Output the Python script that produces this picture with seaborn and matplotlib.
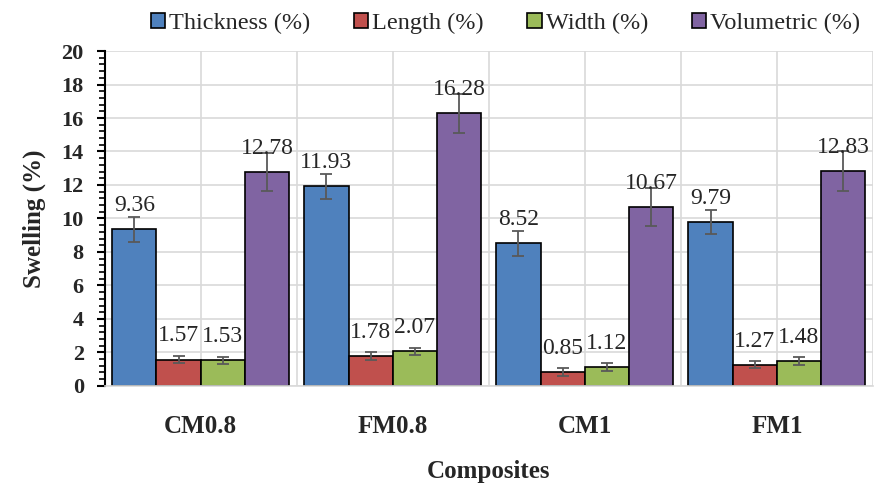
import numpy as np
import pandas as pd
import seaborn as sns
import matplotlib.pyplot as plt
from matplotlib.ticker import MultipleLocator

composites = ["CM0.8", "FM0.8", "CM1", "FM1"]
measures = ["Thickness (%)", "Length (%)", "Width (%)", "Volumetric (%)"]

thickness = [9.36, 11.93, 8.52, 9.79]
length = [1.57, 1.78, 0.85, 1.27]
width = [1.53, 2.07, 1.12, 1.48]
volumetric = [12.78, 16.28, 10.67, 12.83]

thickness_err = [0.75, 0.74, 0.75, 0.73]
length_err = [0.22, 0.23, 0.24, 0.23]
width_err = [0.22, 0.22, 0.22, 0.22]
volumetric_err = [1.14, 1.16, 1.15, 1.17]

colors = ["#4F81BD", "#C0504D", "#9BBB59", "#8064A2"]

values = [thickness, length, width, volumetric]
errors = [thickness_err, length_err, width_err, volumetric_err]

rows = []
for m, vals in zip(measures, values):
    for c, v in zip(composites, vals):
        rows.append({"Composite": c, "Measure": m, "Swelling": v})
df = pd.DataFrame(rows)

sns.set_style("white")
plt.rcParams['font.family'] = ['Liberation Serif', 'DejaVu Serif']

fig = plt.figure(figsize=(8.79, 4.86), dpi=100)
ax = fig.add_axes([0.119, 0.206, 0.874, 0.689])

sns.barplot(data=df, x="Composite", y="Swelling", hue="Measure",
            order=composites, hue_order=measures, palette=colors,
            width=0.92, gap=0, saturation=1, errorbar=None,
            edgecolor="black", linewidth=1.2, ax=ax)

for cont, errs in zip(ax.containers, errors):
    xs = [b.get_x() + b.get_width() / 2 for b in cont]
    hs = [b.get_height() for b in cont]
    ax.errorbar(xs, hs, yerr=errs, fmt="none", ecolor="#595959",
                elinewidth=1.3, capsize=4, capthick=1.3, zorder=5)
    for x, h in zip(xs, hs):
        ax.annotate("%.2f" % h, (x, h), xytext=(0, 17), textcoords="offset points",
                    ha="center", va="center", fontsize=17, zorder=6)

ax.set_ylim(0, 20)
ax.set_xlim(-0.5, 3.5)
ax.yaxis.set_major_locator(MultipleLocator(2))
ax.yaxis.set_minor_locator(MultipleLocator(0.4))
ax.xaxis.set_minor_locator(MultipleLocator(0.5))

ax.set_axisbelow(True)
ax.grid(True, which="major", axis="both", color="#D9D9D9", lw=1.2)
ax.grid(True, which="minor", axis="x", color="#D9D9D9", lw=1.2)

for s in ["top", "right"]:
    ax.spines[s].set_visible(False)
ax.spines["left"].set_color("black")
ax.spines["left"].set_linewidth(1.5)
ax.spines["bottom"].set_color("#D9D9D9")
ax.spines["bottom"].set_linewidth(1.2)

ax.tick_params(axis="y", which="major", direction="out", length=6, width=1.5,
               color="black", left=True, labelsize=16, pad=9)
ax.tick_params(axis="y", which="minor", direction="out", length=4, width=1.2,
               color="black", left=True)
ax.tick_params(axis="x", which="both", length=0, labelsize=18, pad=21)
for lab in ax.get_xticklabels() + ax.get_yticklabels():
    lab.set_fontweight("bold")

ax.set_xlabel("Composites", fontsize=18, fontweight="bold", labelpad=16)
ax.set_ylabel("Swelling (%)", fontsize=18, fontweight="bold", labelpad=11)

handles, labels = ax.get_legend_handles_labels()
ax.legend(handles, labels, loc="center", bbox_to_anchor=(0.575, 0.952),
          bbox_transform=fig.transFigure, ncol=4, frameon=False, fontsize=17.5,
          handlelength=0.6, handleheight=0.6, handletextpad=0.15,
          columnspacing=1.8)

plt.savefig("out.png", dpi=100)
